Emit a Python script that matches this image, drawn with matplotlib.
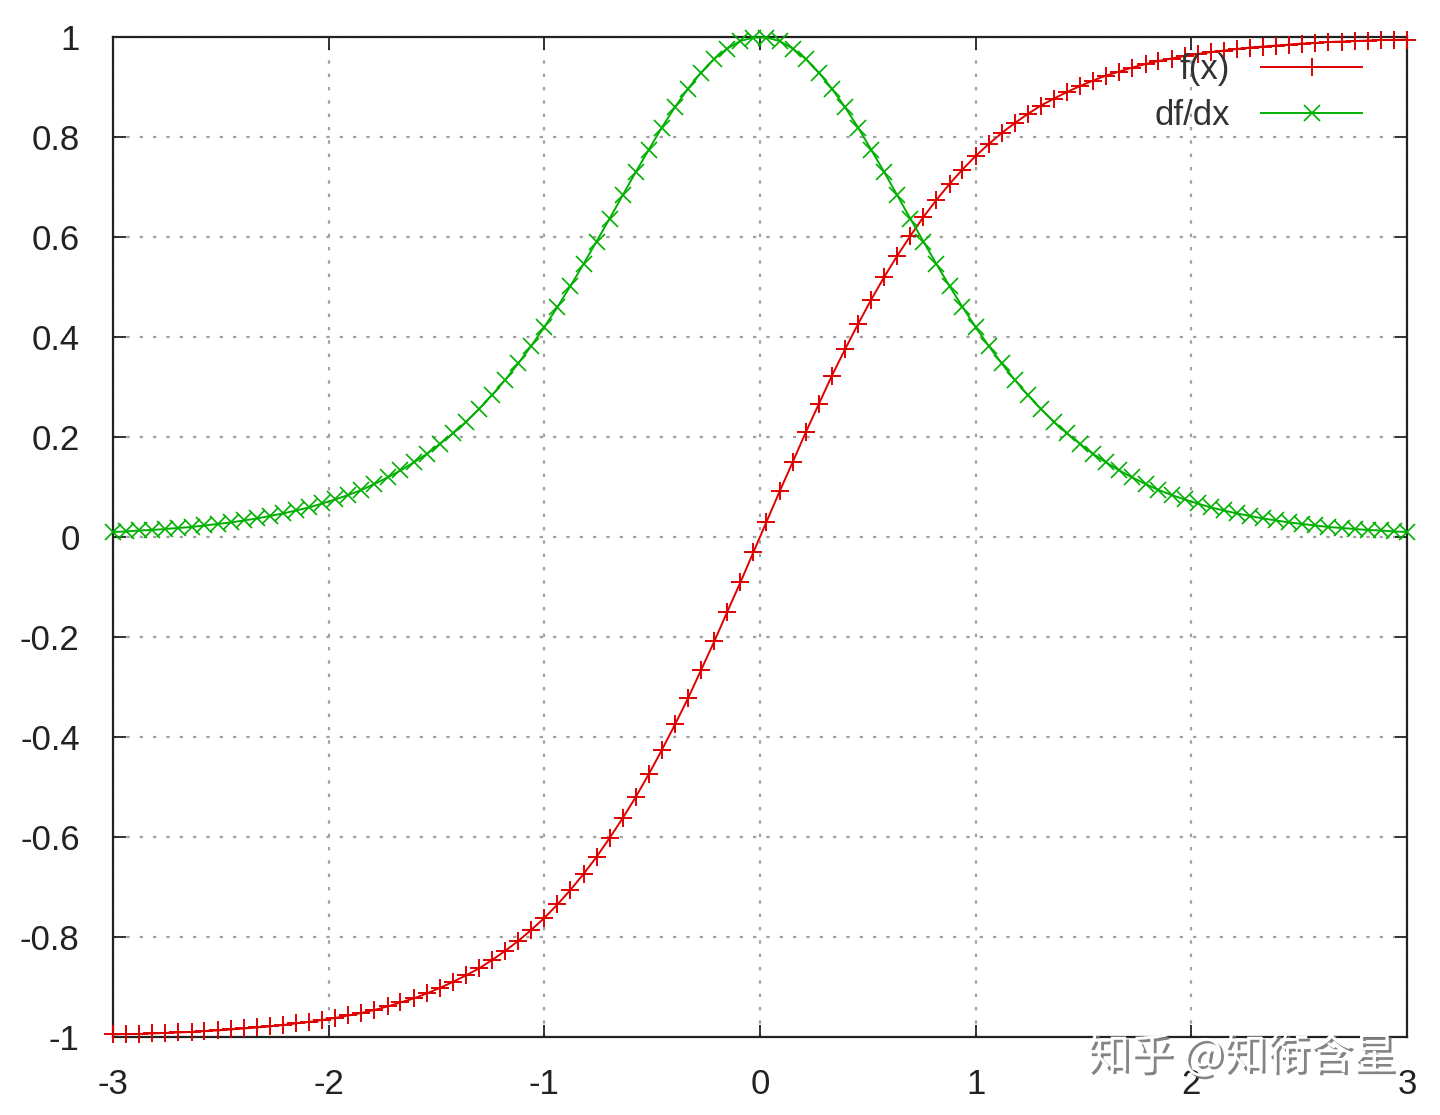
import numpy as np
import matplotlib
matplotlib.use("Agg")
import matplotlib.pyplot as plt
import matplotlib.patheffects as pe

# sample points (100 samples over [-3, 3])
x_vals = [-3.000, -2.939, -2.879, -2.818, -2.758, -2.697, -2.636, -2.576, -2.515, -2.455,
          -2.394, -2.333, -2.273, -2.212, -2.152, -2.091, -2.030, -1.970, -1.909, -1.848,
          -1.788, -1.727, -1.667, -1.606, -1.545, -1.485, -1.424, -1.364, -1.303, -1.242,
          -1.182, -1.121, -1.061, -1.000, -0.939, -0.879, -0.818, -0.758, -0.697, -0.636,
          -0.576, -0.515, -0.455, -0.394, -0.333, -0.273, -0.212, -0.152, -0.091, -0.030,
          0.030, 0.091, 0.152, 0.212, 0.273, 0.333, 0.394, 0.455, 0.515, 0.576,
          0.636, 0.697, 0.758, 0.818, 0.879, 0.939, 1.000, 1.061, 1.121, 1.182,
          1.242, 1.303, 1.364, 1.424, 1.485, 1.545, 1.606, 1.667, 1.727, 1.788,
          1.848, 1.909, 1.970, 2.030, 2.091, 2.152, 2.212, 2.273, 2.333, 2.394,
          2.455, 2.515, 2.576, 2.636, 2.697, 2.758, 2.818, 2.879, 2.939, 3.000]

f_vals = [-0.995, -0.994, -0.994, -0.993, -0.992, -0.991, -0.990, -0.988, -0.987, -0.985,
          -0.983, -0.981, -0.979, -0.976, -0.973, -0.970, -0.966, -0.962, -0.957, -0.952,
          -0.946, -0.939, -0.931, -0.923, -0.913, -0.902, -0.890, -0.877, -0.863, -0.846,
          -0.828, -0.808, -0.786, -0.762, -0.735, -0.706, -0.674, -0.640, -0.602, -0.562,
          -0.520, -0.474, -0.426, -0.375, -0.322, -0.266, -0.209, -0.150, -0.091, -0.030,
          0.030, 0.091, 0.150, 0.209, 0.266, 0.322, 0.375, 0.426, 0.474, 0.520,
          0.562, 0.602, 0.640, 0.674, 0.706, 0.735, 0.762, 0.786, 0.808, 0.828,
          0.846, 0.863, 0.877, 0.890, 0.902, 0.913, 0.923, 0.931, 0.939, 0.946,
          0.952, 0.957, 0.962, 0.966, 0.970, 0.973, 0.976, 0.979, 0.981, 0.983,
          0.985, 0.987, 0.988, 0.990, 0.991, 0.992, 0.993, 0.994, 0.994, 0.995]

df_vals = [0.010, 0.011, 0.013, 0.014, 0.016, 0.018, 0.020, 0.023, 0.026, 0.029,
           0.033, 0.037, 0.042, 0.047, 0.053, 0.059, 0.067, 0.075, 0.084, 0.094,
           0.106, 0.119, 0.133, 0.149, 0.166, 0.186, 0.207, 0.230, 0.256, 0.284,
           0.314, 0.347, 0.382, 0.420, 0.460, 0.502, 0.546, 0.591, 0.637, 0.684,
           0.730, 0.775, 0.819, 0.860, 0.897, 0.929, 0.956, 0.977, 0.992, 0.999,
           0.999, 0.992, 0.977, 0.956, 0.929, 0.897, 0.860, 0.819, 0.775, 0.730,
           0.684, 0.637, 0.591, 0.546, 0.502, 0.460, 0.420, 0.382, 0.347, 0.314,
           0.284, 0.256, 0.230, 0.207, 0.186, 0.166, 0.149, 0.133, 0.119, 0.106,
           0.094, 0.084, 0.075, 0.067, 0.059, 0.053, 0.047, 0.042, 0.037, 0.033,
           0.029, 0.026, 0.023, 0.020, 0.018, 0.016, 0.014, 0.013, 0.011, 0.010]

x_ticks = [-3, -2, -1, 0, 1, 2, 3]
x_labels = ["-3", "-2", "-1", "0", "1", "2", "3"]
y_ticks = [-1, -0.8, -0.6, -0.4, -0.2, 0, 0.2, 0.4, 0.6, 0.8, 1]
y_labels = ["-1", "-0.8", "-0.6", "-0.4", "-0.2", "0", "0.2", "0.4", "0.6", "0.8", "1"]

plt.rcParams['font.family'] = ['Liberation Sans', 'DejaVu Sans']

fig = plt.figure(figsize=(14.4, 11.15), dpi=100)
ax = fig.add_axes([0.0785, 0.070, 0.8985, 0.8968])

ax.plot(x_vals, f_vals, color='#e00000', lw=1.4, marker='+', ms=13, mew=1.4,
        label='f(x)', clip_on=False, zorder=3)
ax.plot(x_vals, df_vals, color='#00b000', lw=1.4, marker='x', ms=12, mew=1.2,
        label='df/dx', clip_on=False, zorder=3)

ax.set_xlim(-3, 3)
ax.set_ylim(-1, 1)
ax.set_xticks(x_ticks)
ax.set_xticklabels(x_labels)
ax.set_yticks(y_ticks)
ax.set_yticklabels(y_labels)

ax.grid(True, color='#a0a0a0', linestyle=(0, (1.5, 4.5)), lw=1.6)
ax.tick_params(direction='in', length=9, width=1.3, top=True, right=True,
               labelsize=25, colors='#222222')
ax.tick_params(axis='y', pad=24)
ax.tick_params(axis='x', pad=22)
for s in ax.spines.values():
    s.set_linewidth(1.6)
    s.set_color('#222222')

leg = ax.legend(loc='upper right', frameon=False, markerfirst=False, numpoints=1,
                fontsize=25, handlelength=2.9, handletextpad=0.9, labelspacing=0.38,
                bbox_to_anchor=(0.976, 0.998), borderaxespad=0.0)
for t in leg.get_texts():
    t.set_color('#333333')

# watermark at lower right
fig.text(0.862, 0.052, "知乎 @知衔含星", fontsize=31, color='white',
         family=['Noto Sans CJK SC', 'DejaVu Sans'], ha='center', va='center', zorder=10,
         path_effects=[pe.withSimplePatchShadow(offset=(2, -2), shadow_rgbFace='#777777', alpha=0.9)])

fig.savefig('out.png', dpi=100)
